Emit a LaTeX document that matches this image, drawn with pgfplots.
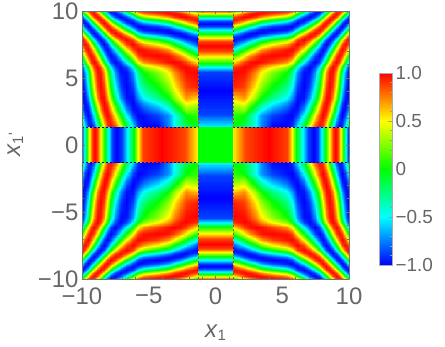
\documentclass[border=0pt]{standalone}
\usepackage{fontspec}
\setmainfont{Liberation Sans}
\usepackage{pgfplots}
\usepackage{pgfplotstable}
\usepgfplotslibrary{patchplots}
\pgfplotsset{compat=1.18}
\definecolor{labgray}{gray}{0.40}
\definecolor{framegray}{gray}{0.45}

% one quadrant, |x|,|y| > 1.3; grid is uneven, closer where fringes are narrow
\pgfplotstableread[row sep=\\]{
x y v\\
1.3 1.3 0\\ 2.2 1.3 -.15\\ 2.6 1.3 -.3\\ 3.1 1.3 -.5\\ 3.5 1.3 -.75\\ 4.3 1.3 -1\\ 5.4 1.3 -1\\ 5.8 1.3 -.9\\ 6.15 1.3 -.55\\ 6.65 1.3 -.05\\ 7.1 1.3 .5\\ 7.5 1.3 .87\\ 7.85 1.3 1\\ 8.1 1.3 .87\\ 8.35 1.3 .5\\ 8.6 1.3 0\\ 8.85 1.3 -.5\\ 9.1 1.3 -.87\\ 9.35 1.3 -1\\ 9.55 1.3 -.87\\ 9.78 1.3 -.5\\ 10 1.3 0\\
1.3 2.2 .1\\ 2.2 2.2 0\\ 2.6 2.2 -.26\\ 3.1 2.2 -.5\\ 3.5 2.2 -.71\\ 4.3 2.2 -.87\\ 5.4 2.2 -.97\\ 5.8 2.2 -1\\ 6.15 2.2 -.87\\ 6.65 2.2 -.5\\ 7.1 2.2 0\\ 7.5 2.2 .5\\ 7.85 2.2 .87\\ 8.1 2.2 1\\ 8.35 2.2 .87\\ 8.6 2.2 .5\\ 8.85 2.2 0\\ 9.1 2.2 -.5\\ 9.35 2.2 -.87\\ 9.55 2.2 -1\\ 9.78 2.2 -.87\\ 10 2.2 -.5\\
1.3 2.6 .2\\ 2.2 2.6 .26\\ 2.6 2.6 0\\ 3.1 2.6 -.26\\ 3.5 2.6 -.5\\ 4.3 2.6 -.71\\ 5.4 2.6 -.87\\ 5.8 2.6 -.97\\ 6.15 2.6 -.97\\ 6.65 2.6 -.71\\ 7.1 2.6 -.26\\ 7.5 2.6 .26\\ 7.85 2.6 .71\\ 8.1 2.6 .97\\ 8.35 2.6 .97\\ 8.6 2.6 .71\\ 8.85 2.6 .26\\ 9.1 2.6 -.26\\ 9.35 2.6 -.71\\ 9.55 2.6 -.97\\ 9.78 2.6 -.97\\ 10 2.6 -.71\\
1.3 3.1 .4\\ 2.2 3.1 .5\\ 2.6 3.1 .26\\ 3.1 3.1 0\\ 3.5 3.1 -.26\\ 4.3 3.1 -.5\\ 5.4 3.1 -.71\\ 5.8 3.1 -.87\\ 6.15 3.1 -1\\ 6.65 3.1 -.87\\ 7.1 3.1 -.5\\ 7.5 3.1 0\\ 7.85 3.1 .5\\ 8.1 3.1 .87\\ 8.35 3.1 1\\ 8.6 3.1 .87\\ 8.85 3.1 .5\\ 9.1 3.1 0\\ 9.35 3.1 -.5\\ 9.55 3.1 -.87\\ 9.78 3.1 -1\\ 10 3.1 -.87\\
1.3 3.5 .6\\ 2.2 3.5 .71\\ 2.6 3.5 .5\\ 3.1 3.5 .26\\ 3.5 3.5 0\\ 4.3 3.5 -.26\\ 5.4 3.5 -.5\\ 5.8 3.5 -.71\\ 6.15 3.5 -.97\\ 6.65 3.5 -.97\\ 7.1 3.5 -.71\\ 7.5 3.5 -.26\\ 7.85 3.5 .26\\ 8.1 3.5 .71\\ 8.35 3.5 .97\\ 8.6 3.5 .97\\ 8.85 3.5 .71\\ 9.1 3.5 .26\\ 9.35 3.5 -.26\\ 9.55 3.5 -.71\\ 9.78 3.5 -.97\\ 10 3.5 -.97\\
1.3 4.3 .95\\ 2.2 4.3 .87\\ 2.6 4.3 .71\\ 3.1 4.3 .5\\ 3.5 4.3 .26\\ 4.3 4.3 0\\ 5.4 4.3 -.26\\ 5.8 4.3 -.5\\ 6.15 4.3 -.87\\ 6.65 4.3 -1\\ 7.1 4.3 -.87\\ 7.5 4.3 -.5\\ 7.85 4.3 0\\ 8.1 4.3 .5\\ 8.35 4.3 .87\\ 8.6 4.3 1\\ 8.85 4.3 .87\\ 9.1 4.3 .5\\ 9.35 4.3 0\\ 9.55 4.3 -.5\\ 9.78 4.3 -.87\\ 10 4.3 -1\\
1.3 5.4 1\\ 2.2 5.4 .97\\ 2.6 5.4 .87\\ 3.1 5.4 .71\\ 3.5 5.4 .5\\ 4.3 5.4 .26\\ 5.4 5.4 0\\ 5.8 5.4 -.26\\ 6.15 5.4 -.71\\ 6.65 5.4 -.97\\ 7.1 5.4 -.97\\ 7.5 5.4 -.71\\ 7.85 5.4 -.26\\ 8.1 5.4 .26\\ 8.35 5.4 .71\\ 8.6 5.4 .97\\ 8.85 5.4 .97\\ 9.1 5.4 .71\\ 9.35 5.4 .26\\ 9.55 5.4 -.26\\ 9.78 5.4 -.71\\ 10 5.4 -.97\\
1.3 5.8 .9\\ 2.2 5.8 1\\ 2.6 5.8 .97\\ 3.1 5.8 .87\\ 3.5 5.8 .71\\ 4.3 5.8 .5\\ 5.4 5.8 .26\\ 5.8 5.8 0\\ 6.15 5.8 -.5\\ 6.65 5.8 -.87\\ 7.1 5.8 -1\\ 7.5 5.8 -.87\\ 7.85 5.8 -.5\\ 8.1 5.8 0\\ 8.35 5.8 .5\\ 8.6 5.8 .87\\ 8.85 5.8 1\\ 9.1 5.8 .87\\ 9.35 5.8 .5\\ 9.55 5.8 0\\ 9.78 5.8 -.5\\ 10 5.8 -.87\\
1.3 6.15 .55\\ 2.2 6.15 .87\\ 2.6 6.15 .97\\ 3.1 6.15 1\\ 3.5 6.15 .97\\ 4.3 6.15 .87\\ 5.4 6.15 .71\\ 5.8 6.15 .5\\ 6.15 6.15 0\\ 6.65 6.15 -.5\\ 7.1 6.15 -.87\\ 7.5 6.15 -1\\ 7.85 6.15 -.87\\ 8.1 6.15 -.5\\ 8.35 6.15 0\\ 8.6 6.15 .5\\ 8.85 6.15 .87\\ 9.1 6.15 1\\ 9.35 6.15 .87\\ 9.55 6.15 .5\\ 9.78 6.15 0\\ 10 6.15 -.5\\
1.3 6.65 .05\\ 2.2 6.65 .5\\ 2.6 6.65 .71\\ 3.1 6.65 .87\\ 3.5 6.65 .97\\ 4.3 6.65 1\\ 5.4 6.65 .97\\ 5.8 6.65 .87\\ 6.15 6.65 .5\\ 6.65 6.65 0\\ 7.1 6.65 -.5\\ 7.5 6.65 -.87\\ 7.85 6.65 -1\\ 8.1 6.65 -.87\\ 8.35 6.65 -.5\\ 8.6 6.65 0\\ 8.85 6.65 .5\\ 9.1 6.65 .87\\ 9.35 6.65 1\\ 9.55 6.65 .87\\ 9.78 6.65 .5\\ 10 6.65 0\\
1.3 7.1 -.5\\ 2.2 7.1 0\\ 2.6 7.1 .26\\ 3.1 7.1 .5\\ 3.5 7.1 .71\\ 4.3 7.1 .87\\ 5.4 7.1 .97\\ 5.8 7.1 1\\ 6.15 7.1 .87\\ 6.65 7.1 .5\\ 7.1 7.1 0\\ 7.5 7.1 -.5\\ 7.85 7.1 -.87\\ 8.1 7.1 -1\\ 8.35 7.1 -.87\\ 8.6 7.1 -.5\\ 8.85 7.1 0\\ 9.1 7.1 .5\\ 9.35 7.1 .87\\ 9.55 7.1 1\\ 9.78 7.1 .87\\ 10 7.1 .5\\
1.3 7.5 -.87\\ 2.2 7.5 -.5\\ 2.6 7.5 -.26\\ 3.1 7.5 0\\ 3.5 7.5 .26\\ 4.3 7.5 .5\\ 5.4 7.5 .71\\ 5.8 7.5 .87\\ 6.15 7.5 1\\ 6.65 7.5 .87\\ 7.1 7.5 .5\\ 7.5 7.5 0\\ 7.85 7.5 -.5\\ 8.1 7.5 -.87\\ 8.35 7.5 -1\\ 8.6 7.5 -.87\\ 8.85 7.5 -.5\\ 9.1 7.5 0\\ 9.35 7.5 .5\\ 9.55 7.5 .87\\ 9.78 7.5 1\\ 10 7.5 .87\\
1.3 7.85 -1\\ 2.2 7.85 -.87\\ 2.6 7.85 -.71\\ 3.1 7.85 -.5\\ 3.5 7.85 -.26\\ 4.3 7.85 0\\ 5.4 7.85 .26\\ 5.8 7.85 .5\\ 6.15 7.85 .87\\ 6.65 7.85 1\\ 7.1 7.85 .87\\ 7.5 7.85 .5\\ 7.85 7.85 0\\ 8.1 7.85 -.5\\ 8.35 7.85 -.87\\ 8.6 7.85 -1\\ 8.85 7.85 -.87\\ 9.1 7.85 -.5\\ 9.35 7.85 0\\ 9.55 7.85 .5\\ 9.78 7.85 .87\\ 10 7.85 1\\
1.3 8.1 -.87\\ 2.2 8.1 -1\\ 2.6 8.1 -.97\\ 3.1 8.1 -.87\\ 3.5 8.1 -.71\\ 4.3 8.1 -.5\\ 5.4 8.1 -.26\\ 5.8 8.1 0\\ 6.15 8.1 .5\\ 6.65 8.1 .87\\ 7.1 8.1 1\\ 7.5 8.1 .87\\ 7.85 8.1 .5\\ 8.1 8.1 0\\ 8.35 8.1 -.5\\ 8.6 8.1 -.87\\ 8.85 8.1 -1\\ 9.1 8.1 -.87\\ 9.35 8.1 -.5\\ 9.55 8.1 0\\ 9.78 8.1 .5\\ 10 8.1 .87\\
1.3 8.35 -.5\\ 2.2 8.35 -.87\\ 2.6 8.35 -.97\\ 3.1 8.35 -1\\ 3.5 8.35 -.97\\ 4.3 8.35 -.87\\ 5.4 8.35 -.71\\ 5.8 8.35 -.5\\ 6.15 8.35 0\\ 6.65 8.35 .5\\ 7.1 8.35 .87\\ 7.5 8.35 1\\ 7.85 8.35 .87\\ 8.1 8.35 .5\\ 8.35 8.35 0\\ 8.6 8.35 -.5\\ 8.85 8.35 -.87\\ 9.1 8.35 -1\\ 9.35 8.35 -.87\\ 9.55 8.35 -.5\\ 9.78 8.35 0\\ 10 8.35 .5\\
1.3 8.6 0\\ 2.2 8.6 -.5\\ 2.6 8.6 -.71\\ 3.1 8.6 -.87\\ 3.5 8.6 -.97\\ 4.3 8.6 -1\\ 5.4 8.6 -.97\\ 5.8 8.6 -.87\\ 6.15 8.6 -.5\\ 6.65 8.6 0\\ 7.1 8.6 .5\\ 7.5 8.6 .87\\ 7.85 8.6 1\\ 8.1 8.6 .87\\ 8.35 8.6 .5\\ 8.6 8.6 0\\ 8.85 8.6 -.5\\ 9.1 8.6 -.87\\ 9.35 8.6 -1\\ 9.55 8.6 -.87\\ 9.78 8.6 -.5\\ 10 8.6 0\\
1.3 8.85 .5\\ 2.2 8.85 0\\ 2.6 8.85 -.26\\ 3.1 8.85 -.5\\ 3.5 8.85 -.71\\ 4.3 8.85 -.87\\ 5.4 8.85 -.97\\ 5.8 8.85 -1\\ 6.15 8.85 -.87\\ 6.65 8.85 -.5\\ 7.1 8.85 0\\ 7.5 8.85 .5\\ 7.85 8.85 .87\\ 8.1 8.85 1\\ 8.35 8.85 .87\\ 8.6 8.85 .5\\ 8.85 8.85 0\\ 9.1 8.85 -.5\\ 9.35 8.85 -.87\\ 9.55 8.85 -1\\ 9.78 8.85 -.87\\ 10 8.85 -.5\\
1.3 9.1 .87\\ 2.2 9.1 .5\\ 2.6 9.1 .26\\ 3.1 9.1 0\\ 3.5 9.1 -.26\\ 4.3 9.1 -.5\\ 5.4 9.1 -.71\\ 5.8 9.1 -.87\\ 6.15 9.1 -1\\ 6.65 9.1 -.87\\ 7.1 9.1 -.5\\ 7.5 9.1 0\\ 7.85 9.1 .5\\ 8.1 9.1 .87\\ 8.35 9.1 1\\ 8.6 9.1 .87\\ 8.85 9.1 .5\\ 9.1 9.1 0\\ 9.35 9.1 -.5\\ 9.55 9.1 -.87\\ 9.78 9.1 -1\\ 10 9.1 -.87\\
1.3 9.35 1\\ 2.2 9.35 .87\\ 2.6 9.35 .71\\ 3.1 9.35 .5\\ 3.5 9.35 .26\\ 4.3 9.35 0\\ 5.4 9.35 -.26\\ 5.8 9.35 -.5\\ 6.15 9.35 -.87\\ 6.65 9.35 -1\\ 7.1 9.35 -.87\\ 7.5 9.35 -.5\\ 7.85 9.35 0\\ 8.1 9.35 .5\\ 8.35 9.35 .87\\ 8.6 9.35 1\\ 8.85 9.35 .87\\ 9.1 9.35 .5\\ 9.35 9.35 0\\ 9.55 9.35 -.5\\ 9.78 9.35 -.87\\ 10 9.35 -1\\
1.3 9.55 .87\\ 2.2 9.55 1\\ 2.6 9.55 .97\\ 3.1 9.55 .87\\ 3.5 9.55 .71\\ 4.3 9.55 .5\\ 5.4 9.55 .26\\ 5.8 9.55 0\\ 6.15 9.55 -.5\\ 6.65 9.55 -.87\\ 7.1 9.55 -1\\ 7.5 9.55 -.87\\ 7.85 9.55 -.5\\ 8.1 9.55 0\\ 8.35 9.55 .5\\ 8.6 9.55 .87\\ 8.85 9.55 1\\ 9.1 9.55 .87\\ 9.35 9.55 .5\\ 9.55 9.55 0\\ 9.78 9.55 -.5\\ 10 9.55 -.87\\
1.3 9.78 .5\\ 2.2 9.78 .87\\ 2.6 9.78 .97\\ 3.1 9.78 1\\ 3.5 9.78 .97\\ 4.3 9.78 .87\\ 5.4 9.78 .71\\ 5.8 9.78 .5\\ 6.15 9.78 0\\ 6.65 9.78 -.5\\ 7.1 9.78 -.87\\ 7.5 9.78 -1\\ 7.85 9.78 -.87\\ 8.1 9.78 -.5\\ 8.35 9.78 0\\ 8.6 9.78 .5\\ 8.85 9.78 .87\\ 9.1 9.78 1\\ 9.35 9.78 .87\\ 9.55 9.78 .5\\ 9.78 9.78 0\\ 10 9.78 -.5\\
1.3 10 0\\ 2.2 10 .5\\ 2.6 10 .71\\ 3.1 10 .87\\ 3.5 10 .97\\ 4.3 10 1\\ 5.4 10 .97\\ 5.8 10 .87\\ 6.15 10 .5\\ 6.65 10 0\\ 7.1 10 -.5\\ 7.5 10 -.87\\ 7.85 10 -1\\ 8.1 10 -.87\\ 8.35 10 -.5\\ 8.6 10 0\\ 8.85 10 .5\\ 9.1 10 .87\\ 9.35 10 1\\ 9.55 10 .87\\ 9.78 10 .5\\ 10 10 0\\
}\quadrant

% horizontal band |y| < 1.3, depends on x only
\pgfplotstableread[row sep=\\]{
x y v\\
1.3 -1.3 .5\\ 2.3 -1.3 .87\\ 4 -1.3 1\\ 5.45 -1.3 .87\\ 5.8 -1.3 .5\\ 6.1 -1.3 0\\ 6.6 -1.3 -.5\\ 7 -1.3 -.87\\ 7.4 -1.3 -1\\ 7.75 -1.3 -.87\\ 8 -1.3 -.5\\ 8.3 -1.3 0\\ 8.6 -1.3 .5\\ 8.85 -1.3 .87\\ 9.05 -1.3 1\\ 9.25 -1.3 .87\\ 9.45 -1.3 .5\\ 9.65 -1.3 0\\ 9.83 -1.3 -.5\\ 10 -1.3 -.87\\
1.3 1.3 .5\\ 2.3 1.3 .87\\ 4 1.3 1\\ 5.45 1.3 .87\\ 5.8 1.3 .5\\ 6.1 1.3 0\\ 6.6 1.3 -.5\\ 7 1.3 -.87\\ 7.4 1.3 -1\\ 7.75 1.3 -.87\\ 8 1.3 -.5\\ 8.3 1.3 0\\ 8.6 1.3 .5\\ 8.85 1.3 .87\\ 9.05 1.3 1\\ 9.25 1.3 .87\\ 9.45 1.3 .5\\ 9.65 1.3 0\\ 9.83 1.3 -.5\\ 10 1.3 -.87\\
}\band

% vertical band |x| < 1.3, depends on y only
\pgfplotstableread[row sep=\\]{
x y v\\
-1.3 1.3 -.5\\ 1.3 1.3 -.5\\
-1.3 2.3 -.87\\ 1.3 2.3 -.87\\
-1.3 4 -1\\ 1.3 4 -1\\
-1.3 5.45 -.87\\ 1.3 5.45 -.87\\
-1.3 5.8 -.5\\ 1.3 5.8 -.5\\
-1.3 6.1 0\\ 1.3 6.1 0\\
-1.3 6.6 .5\\ 1.3 6.6 .5\\
-1.3 7 .87\\ 1.3 7 .87\\
-1.3 7.4 1\\ 1.3 7.4 1\\
-1.3 7.75 .87\\ 1.3 7.75 .87\\
-1.3 8 .5\\ 1.3 8 .5\\
-1.3 8.3 0\\ 1.3 8.3 0\\
-1.3 8.6 -.5\\ 1.3 8.6 -.5\\
-1.3 8.85 -.87\\ 1.3 8.85 -.87\\
-1.3 9.05 -1\\ 1.3 9.05 -1\\
-1.3 9.25 -.87\\ 1.3 9.25 -.87\\
-1.3 9.45 -.5\\ 1.3 9.45 -.5\\
-1.3 9.65 0\\ 1.3 9.65 0\\
-1.3 9.83 .5\\ 1.3 9.83 .5\\
-1.3 10 .87\\ 1.3 10 .87\\
}\vband

\pgfplotstableread[row sep=\\]{
x y v\\
-1.3 -1.3 0\\ 1.3 -1.3 0\\
-1.3 1.3 0\\ 1.3 1.3 0\\
}\centre

\pgfplotsset{patchstyle/.style={surf,shader=interp,patch type=bilinear,forget plot}}

\begin{document}
\begin{tikzpicture}
\useasboundingbox (-82bp,-68bp) rectangle (363bp,279bp);
\begin{axis}[
  view={0}{90},
  scale only axis,
  width=267bp, height=268bp,
  at={(0,0)}, anchor=south west,
  xmin=-10, xmax=10, ymin=-10, ymax=10,
  axis on top,
  xtick={-10,-5,0,5,10}, ytick={-10,-5,0,5,10}, ztick=\empty,
  xticklabels={−10,−5,0,5,10}, yticklabels={−10,−5,0,5,10},
  minor tick num=4,
  tick align=inside,
  xtick pos=both, ytick pos=both,
  xticklabel pos=bottom, yticklabel pos=left,
  major tick length=3.5bp, minor tick length=2bp,
  tick style={framegray, line width=0.5bp},
  axis line style={framegray, line width=0.6bp},
  tick label style={font=\fontsize{24}{26}\selectfont, text=labgray},
  xticklabel style={yshift=-5bp},
  xlabel={\fontsize{24}{26}\selectfont\textit{x}\raisebox{-3bp}{\fontsize{15}{15}\selectfont 1}},
  ylabel={\fontsize{24}{26}\selectfont\textit{x}\raisebox{-3bp}{\fontsize{15}{15}\selectfont 1}\raisebox{1bp}{\fontsize{15}{15}\selectfont\textquotesingle}},
  xlabel style={text=labgray, at={(axis description cs:0.5,-0.2)}, anchor=center},
  ylabel style={text=labgray, at={(axis description cs:-0.25,0.5)}, anchor=center},
  colormap={mma}{rgb=(0,0,1) rgb=(0,1,1) rgb=(0,1,0) rgb=(1,1,0) rgb=(1,0,0)},
  point meta min=-1, point meta max=1,
  colorbar,
  colorbar style={
    at={(1.1124,0.7687)}, anchor=north west,
    width=13bp, height=192bp,
    scale only axis,
    ytick={-1,-0.5,0,0.5,1},
    yticklabels={−1.0,−0.5,0,0.5,1.0},
    minor y tick num=4,
    tick align=inside,
    ytick pos=right,
    yticklabel pos=right,
    major tick length=4bp, minor tick length=2bp,
    tick style={framegray!70, line width=0.4bp},
    axis line style={framegray!60, line width=0.5bp},
    yticklabel style={font=\fontsize{19}{21}\selectfont, text=labgray},
  },
]
% four quadrants
\addplot3[patchstyle,mesh/rows=22] table[x=x,y=y,z=v]{\quadrant};
\addplot3[patchstyle,mesh/rows=22] table[x expr=-\thisrow{x},y=y,z=v]{\quadrant};
\addplot3[patchstyle,mesh/rows=22] table[x=x,y expr=-\thisrow{y},z=v]{\quadrant};
\addplot3[patchstyle,mesh/rows=22] table[x expr=-\thisrow{x},y expr=-\thisrow{y},z=v]{\quadrant};
% horizontal band
\addplot3[patchstyle,mesh/rows=2] table[x=x,y=y,z=v]{\band};
\addplot3[patchstyle,mesh/rows=2] table[x expr=-\thisrow{x},y=y,z=v]{\band};
% vertical band
\addplot3[patchstyle,mesh/rows=20] table[x=x,y=y,z=v]{\vband};
\addplot3[patchstyle,mesh/rows=20] table[x=x,y expr=-\thisrow{y},z=v]{\vband};
% middle square
\addplot3[patchstyle,mesh/rows=2] table[x=x,y=y,z=v]{\centre};
% rough sampled edges of the bands
\addplot3[forget plot,unbounded coords=jump,blue!80!black,line width=0.7bp,dash pattern=on 2.5bp off 1.5bp] coordinates {(-10,1.3,0)(-1.3,1.3,0)(nan,nan,nan)(1.3,1.3,0)(10,1.3,0)(nan,nan,nan)(-10,-1.3,0)(-1.3,-1.3,0)(nan,nan,nan)(1.3,-1.3,0)(10,-1.3,0)};
\addplot3[forget plot,unbounded coords=jump,orange!70!black,line width=0.7bp,dash pattern=on 2bp off 2bp] coordinates {(-1.3,-10,0)(-1.3,-1.3,0)(nan,nan,nan)(-1.3,1.3,0)(-1.3,10,0)(nan,nan,nan)(1.3,-10,0)(1.3,-1.3,0)(nan,nan,nan)(1.3,1.3,0)(1.3,10,0)};
\end{axis}
\end{tikzpicture}
\end{document}
